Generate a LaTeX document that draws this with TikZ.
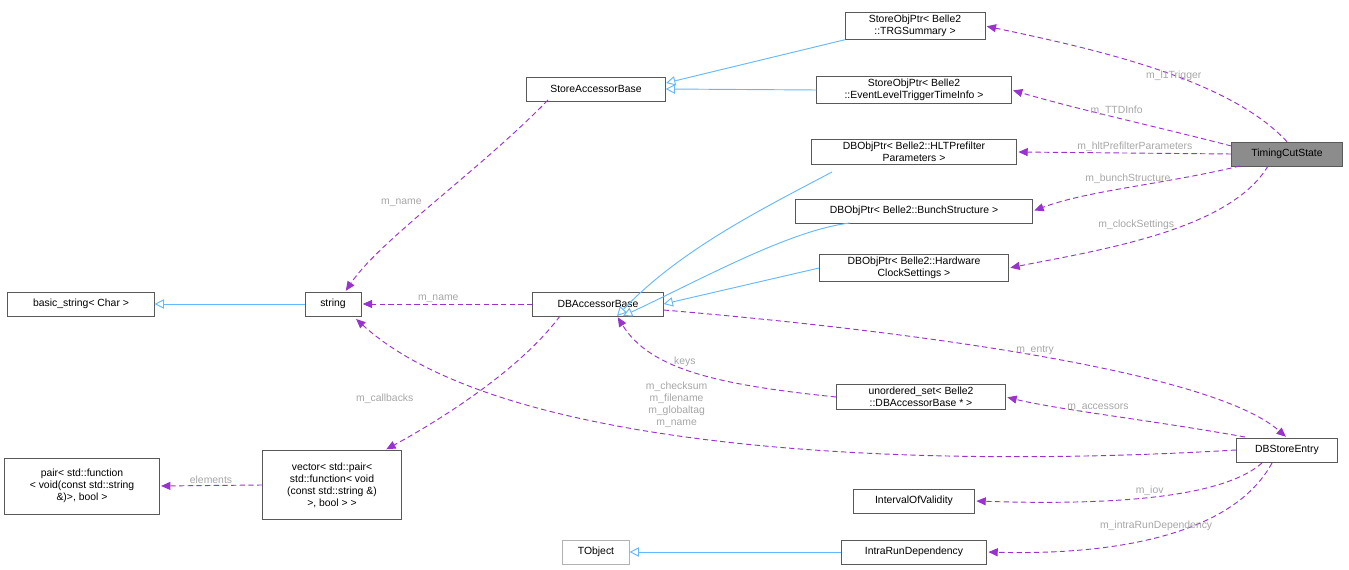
\documentclass[tikz,border=0pt]{standalone}
\usepackage{fontspec}
\setmainfont{Liberation Sans}
\usetikzlibrary{arrows.meta}
\definecolor{inhc}{RGB}{99,184,255}
\definecolor{usec}{RGB}{154,50,205}
\begin{document}
\begin{tikzpicture}[x=0.75pt,y=-0.75pt,
  every node/.style={font=\fontsize{7.8}{9}\selectfont},
  box/.style={draw=black!65,fill=white,inner sep=2pt,align=center,minimum height=18pt},
  inh/.style={draw=inhc,line width=0.7pt,{Triangle[open,fill=white,length=7pt,width=7pt]}-},
  use/.style={draw=usec,line width=0.7pt,dash pattern=on 4pt off 2.5pt,-{Triangle[length=7pt,width=6pt,fill=usec,sep]}},
  lab/.style={text=black!35,fill=none,inner sep=1pt}]
\useasboundingbox (0,0) rectangle (1349,570);
\node[box,minimum width=105pt] (trg) at (915,26) {StoreObjPtr< Belle2\\::TRGSummary >};
\node[box,minimum width=104pt] (sab) at (596,89) {StoreAccessorBase};
\node[box,minimum width=146pt] (ev) at (914,90) {StoreObjPtr< Belle2\\::EventLevelTriggerTimeInfo >};
\node[box,minimum width=154pt] (hlt) at (914,152) {DBObjPtr< Belle2::HLTPrefilter\\Parameters >};
\node[box,minimum width=83pt,fill=black!45] (tcs) at (1287,154) {TimingCutState};
\node[box,minimum width=178pt] (bs) at (914,211) {DBObjPtr< Belle2::BunchStructure >};
\node[box,minimum width=142pt] (hw) at (914,268) {DBObjPtr< Belle2::Hardware\\ClockSettings >};
\node[box,minimum width=110pt] (bstr) at (81,304) {basic\_string< Char >};
\node[box,minimum width=42pt] (str) at (333,304) {string};
\node[box,minimum width=98pt] (dba) at (598,304) {DBAccessorBase};
\node[box,minimum width=127pt] (us) at (921,397) {unordered\_set< Belle2\\::DBAccessorBase * >};
\node[box,minimum width=76pt] (dse) at (1287,450) {DBStoreEntry};
\node[box,minimum width=116pt,minimum height=42pt] (pair) at (82,486) {pair< std::function\\< void(const std::string\\\&)>, bool >};
\node[box,minimum width=104pt,minimum height=52pt] (vec) at (332,485) {vector< std::pair<\\ std::function< void\\(const std::string \&)\\>, bool > >};
\node[box,minimum width=91pt] (iov) at (914,501) {IntervalOfValidity};
\node[box,minimum width=50pt,draw=black!30] (tob) at (596,552) {TObject};
\node[box,minimum width=109pt] (ird) at (914,552) {IntraRunDependency};
% inheritance
\draw[inh] (666,83) -- (trg.south west);
\draw[inh] (sab.east) -- (ev.west);
\draw[inh] (617,316) .. controls (680,250) and (760,210) .. (832,172);
\draw[inh] (623,316) .. controls (700,280) and (790,230) .. (850,223);
\draw[inh] (dba.east) -- (hw.west);
\draw[inh] (bstr.east) -- (str.west);
\draw[inh] (tob.east) -- (ird.west);
% usage
\draw[use] (tcs.north) .. controls (1230,80) and (1100,50) .. (trg.east) node[lab,pos=0.45] {m\_l1Trigger};
\draw[use] (tcs.west) ++(0,-8) .. controls (1150,125) and (1080,110) .. (ev.east) node[lab,pos=0.5,above] {m\_TTDInfo};
\draw[use] (tcs.west) -- (hlt.east) node[lab,pos=0.45,above] {m\_hltPrefilterParameters};
\draw[use] (1240,166) .. controls (1160,185) and (1090,190) .. (bs.east) node[lab,pos=0.5,above=2pt] {m\_bunchStructure};
\draw[use] (1268,166) .. controls (1230,230) and (1100,250) .. (hw.east) node[lab,pos=0.4,left=8pt] {m\_clockSettings};
\draw[use] (548,100) .. controls (480,170) and (380,240) .. (345,292) node[lab,pos=0.5,left=8pt] {m\_name};
\draw[use] (dba.west) -- (str.east) node[lab,pos=0.55,above] {m\_name};
\draw[use] (560,316) .. controls (520,370) and (440,420) .. (385,450) node[lab,pos=0.55,left=40pt] {m\_callbacks};
\draw[use] (dba.east) ++(0,6) .. controls (900,330) and (1210,370) .. (dse.north) node[lab,pos=0.5,above] {m\_entry};
\draw[use] (us.west) .. controls (720,385) and (650,370) .. (617,316) node[lab,pos=0.55,above] {keys};
\draw[use] (1245,437) .. controls (1150,420) and (1060,410) .. (us.east) node[lab,pos=0.55,above] {m\_accessors};
\draw[use] (dse.west) .. controls (900,470) and (500,450) .. (355,318) node[lab,pos=0.55,align=center,above=4pt] {m\_checksum\\m\_filename\\m\_globaltag\\m\_name};
\draw[use] (vec.west) -- (pair.east) node[lab,pos=0.5,above] {elements};
\draw[use] (1262,463) .. controls (1220,500) and (1100,505) .. (iov.east) node[lab,pos=0.5,above] {m\_iov};
\draw[use] (1272,463) .. controls (1230,540) and (1100,555) .. (ird.east) node[lab,pos=0.5,above=4pt] {m\_intraRunDependency};
\end{tikzpicture}
\end{document}
